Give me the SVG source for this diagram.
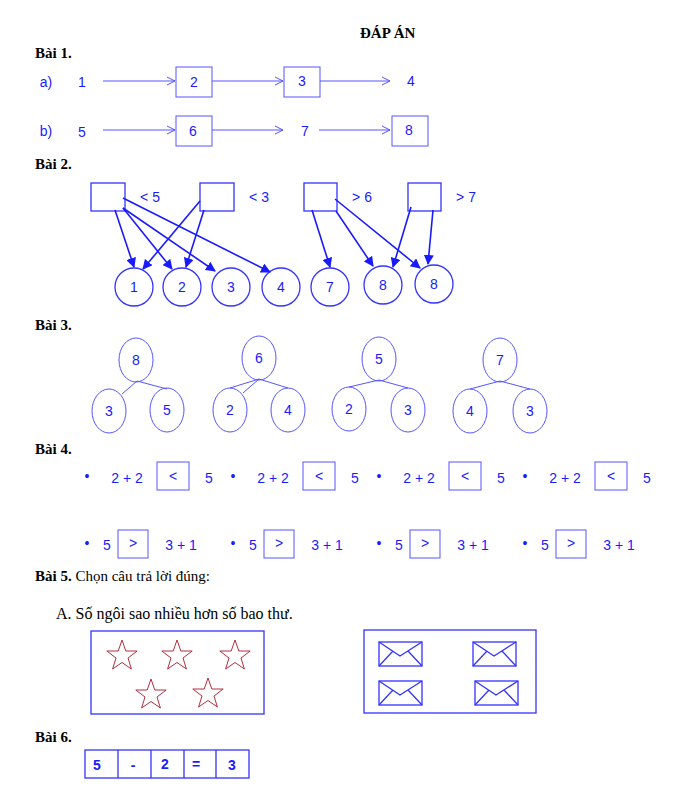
<svg xmlns="http://www.w3.org/2000/svg" width="700" height="792" viewBox="0 0 700 792">
<style>
.h{font-family:"Liberation Serif",serif;font-weight:bold;font-size:15px;fill:#000}
.t{font-family:"Liberation Serif",serif;font-size:16px;fill:#000}
.b{font-family:"Liberation Sans",sans-serif;font-size:14px;fill:#1a1aff;text-anchor:middle;dominant-baseline:central}
.bx{fill:none;stroke:#3333ff;stroke-width:1.3}
.th{fill:none;stroke:#5555ff;stroke-width:1}
.ar{stroke:#5555ff;stroke-width:1;fill:none;marker-end:url(#o)}
.as{stroke:#1a1aff;stroke-width:1.6;fill:none;marker-end:url(#f)}
.st{fill:none;stroke:#b03040;stroke-width:1}
</style>
<defs>
<marker id="o" markerWidth="10" markerHeight="10" refX="9" refY="5" orient="auto" markerUnits="userSpaceOnUse"><path d="M1,1 L9,5 L1,9" fill="none" stroke="#5555ff"/></marker>
<marker id="f" markerWidth="10" markerHeight="10" refX="9" refY="5" orient="auto" markerUnits="userSpaceOnUse"><path d="M0,0 L10,5 L0,10 Z" fill="#1a1aff"/></marker>
<path id="star" d="M0,-16 L3.8,-5 L15.2,-5 L6,2 L9.4,13 L0,6.5 L-9.4,13 L-6,2 L-15.2,-5 L-3.8,-5 Z"/>
</defs>
<text class="h" x="360" y="38">ĐÁP ÁN</text>
<text class="h" x="35" y="58">Bài 1.</text>
<g id="bai1">
<text class="b" x="46" y="82">a)</text><text class="b" x="82" y="82">1</text>
<rect class="th" x="176" y="67" width="36" height="30"/><text class="b" x="194" y="82">2</text>
<rect class="th" x="284" y="67" width="36" height="30"/><text class="b" x="302" y="81">3</text>
<text class="b" x="411" y="81">4</text>
<text class="b" x="46" y="131">b)</text><text class="b" x="82" y="132">5</text>
<rect class="th" x="176" y="116" width="36" height="30"/><text class="b" x="193" y="131">6</text>
<text class="b" x="305" y="131">7</text>
<rect class="th" x="392" y="116" width="36" height="30"/><text class="b" x="409" y="130">8</text>
</g>
<g id="conn1">
<line class="ar" x1="103" y1="81" x2="175" y2="81"/>
<line class="ar" x1="212" y1="81" x2="283" y2="81"/>
<line class="ar" x1="320" y1="81" x2="390" y2="81"/>
<line class="ar" x1="103" y1="130" x2="175" y2="130"/>
<line class="ar" x1="212" y1="130" x2="283" y2="130"/>
<line class="ar" x1="319" y1="130" x2="390" y2="130"/>
</g>
<text class="h" x="35" y="169">Bài 2.</text>
<g id="bai2">
<rect class="bx" x="91" y="183" width="34" height="28"/><text class="b" x="150" y="197">&lt;  5</text>
<rect class="bx" x="200" y="183" width="34" height="28"/><text class="b" x="259" y="197">&lt;  3</text>
<rect class="bx" x="304" y="183" width="33" height="28"/><text class="b" x="362" y="197">&gt;  6</text>
<rect class="bx" x="408" y="183" width="33" height="28"/><text class="b" x="466" y="197">&gt;  7</text>
<circle class="bx" cx="134" cy="287" r="19"/><text class="b" x="134" y="287">1</text>
<circle class="bx" cx="182" cy="287" r="19"/><text class="b" x="182" y="287">2</text>
<circle class="bx" cx="231" cy="287" r="19"/><text class="b" x="231" y="287">3</text>
<circle class="bx" cx="281" cy="287" r="19"/><text class="b" x="281" y="287">4</text>
<circle class="bx" cx="330" cy="287" r="19"/><text class="b" x="330" y="287">7</text>
<circle class="bx" cx="383" cy="285" r="19"/><text class="b" x="383" y="285">8</text>
<circle class="bx" cx="434" cy="284" r="19"/><text class="b" x="434" y="284">8</text>
</g>
<g id="conn2">
<line class="as" x1="115" y1="210" x2="134" y2="267"/>
<line class="as" x1="123" y1="208" x2="172" y2="269"/>
<line class="as" x1="123" y1="208" x2="215" y2="271"/>
<line class="as" x1="123" y1="198" x2="270" y2="272"/>
<line class="as" x1="200" y1="201" x2="143" y2="269"/>
<line class="as" x1="204" y1="210" x2="186" y2="267"/>
<line class="as" x1="312" y1="210" x2="330" y2="267"/>
<line class="as" x1="336" y1="211" x2="373" y2="266"/>
<line class="as" x1="335" y1="199" x2="420" y2="268"/>
<line class="as" x1="411" y1="207" x2="393" y2="267"/>
<line class="as" x1="433" y1="210" x2="428" y2="264"/>
</g>
<text class="h" x="35" y="330">Bài 3.</text>
<g id="bai3" font-size="13">
<g><ellipse class="th" cx="136" cy="360" rx="17" ry="22"/><text class="b" x="136" y="360">8</text>
<ellipse class="th" cx="109" cy="411" rx="17" ry="22"/><text class="b" x="109" y="411">3</text>
<ellipse class="th" cx="167" cy="410" rx="17" ry="22"/><text class="b" x="167" y="410">5</text>
<path class="th" d="M122,394 L137,381 L167,389"/></g>
<g><ellipse class="th" cx="259" cy="358" rx="17" ry="22"/><text class="b" x="259" y="358">6</text>
<ellipse class="th" cx="230" cy="410" rx="17" ry="22"/><text class="b" x="230" y="410">2</text>
<ellipse class="th" cx="288" cy="410" rx="17" ry="22"/><text class="b" x="288" y="410">4</text>
<path class="th" d="M230,388 L259,379 L288,388 M259,379 L243,393"/></g>
<g><ellipse class="th" cx="379" cy="359" rx="17" ry="22"/><text class="b" x="379" y="359">5</text>
<ellipse class="th" cx="349" cy="409" rx="17" ry="22"/><text class="b" x="349" y="409">2</text>
<ellipse class="th" cx="408" cy="410" rx="17" ry="22"/><text class="b" x="408" y="410">3</text>
<path class="th" d="M349,387 L379,380 L408,388"/></g>
<g><ellipse class="th" cx="500" cy="360" rx="17" ry="22"/><text class="b" x="500" y="360">7</text>
<ellipse class="th" cx="470" cy="411" rx="17" ry="22"/><text class="b" x="470" y="411">4</text>
<ellipse class="th" cx="530" cy="411" rx="17" ry="22"/><text class="b" x="530" y="411">3</text>
<path class="th" d="M470,389 L500,381 L530,389"/></g>
</g>
<text class="h" x="35" y="454">Bài 4.</text>
<g id="bai4">
<g id="r1a"><text class="b" x="87" y="476">•</text><text class="b" x="127" y="478">2  +  2</text><rect class="th" x="157" y="462" width="32" height="28"/><text class="b" x="173" y="476">&lt;</text><text class="b" x="209" y="478">5</text></g>
<use href="#r1a" x="146"/><use href="#r1a" x="292"/><use href="#r1a" x="438"/>
<g id="r2a"><text class="b" x="87" y="543">•</text><text class="b" x="107" y="545">5</text><rect class="th" x="118" y="530" width="30" height="28"/><text class="b" x="133" y="543">&gt;</text><text class="b" x="181" y="545">3  +  1</text></g>
<use href="#r2a" x="146"/><use href="#r2a" x="292"/><use href="#r2a" x="438"/>
</g>
<text class="h" x="35" y="581">Bài 5. <tspan font-weight="normal">Chọn câu trả lời đúng:</tspan></text>
<text class="t" x="56" y="619">A.  Số ngôi sao nhiều hơn số bao thư.</text>
<g id="bai5">
<rect class="bx" x="91" y="631" width="173" height="83"/>
<use href="#star" class="st" x="122" y="656"/><use href="#star" class="st" x="177" y="656"/><use href="#star" class="st" x="235" y="656"/>
<use href="#star" class="st" x="151" y="695"/><use href="#star" class="st" x="208" y="694"/>
<rect class="bx" x="364" y="630" width="172" height="83"/>
<g id="env"><rect class="bx" x="379" y="642" width="43" height="24"/><path class="bx" d="M379,642 L400,656 L422,642 M379,666 L393,651 M422,666 L408,651"/></g>
<use href="#env" x="94"/><use href="#env" y="39"/><use href="#env" x="96" y="39"/>
</g>
<text class="h" x="35" y="742">Bài 6.</text>
<g id="bai6">
<rect class="bx" x="85" y="750" width="164" height="28"/>
<path class="bx" d="M118,750 V778 M151,750 V778 M184,750 V778 M216,750 V778"/>
<text class="b" x="97" y="765" font-weight="bold">5</text><text class="b" x="133" y="765" font-weight="bold">-</text><text class="b" x="165" y="764" font-weight="bold">2</text><text class="b" x="196" y="764" font-weight="bold">=</text><text class="b" x="232" y="765" font-weight="bold">3</text>
</g>
</svg>
